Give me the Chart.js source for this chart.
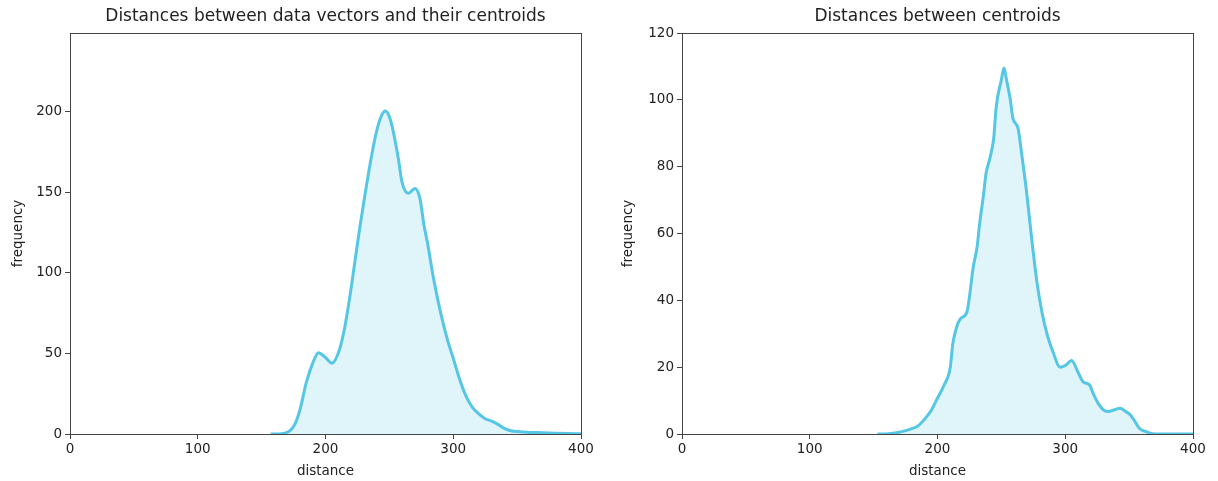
<!DOCTYPE html>
<html>
<head>
<meta charset="utf-8">
<script src="https://cdn.jsdelivr.net/npm/chart.js@4.4.1/dist/chart.umd.min.js"></script>
<style>
  html, body { margin: 0; padding: 0; background: #fff; }
  #wrap { position: relative; width: 1218px; height: 481px; }
  canvas { position: absolute; top: 0; }
</style>
</head>
<body>
<div id="wrap">
  <canvas id="left-chart" width="610" height="481" style="left:0"></canvas>
  <canvas id="right-chart" width="608" height="481" style="left:610px"></canvas>
</div>
<script>
// Distante intre vectori si centroizi (stanga)
var leftDist = [157, 163, 168, 172, 176, 180, 185, 190, 194.5, 200, 205, 211, 215, 219, 223, 227, 231, 235, 240, 244, 247, 250, 253, 257, 260, 265, 270, 274, 277, 280, 284, 288, 292, 296, 300, 305, 310, 315, 320, 325, 330, 335, 340, 345, 350, 360, 370, 380, 390, 400];
var leftFreq = [0, 0, 0.5, 2, 6, 15, 32, 44, 50.5, 47.5, 44, 52.5, 66, 85, 107, 129, 149, 168, 188, 198, 200.5, 197, 188, 171, 156, 149.5, 152.5, 146, 130, 118, 99, 83, 69, 57, 47, 34, 23.5, 16.5, 12.5, 9.5, 8, 6, 3.5, 2, 1.5, 1, 0.8, 0.5, 0.3, 0.2];

// Distante intre centroizi (dreapta)
var rightDist = [153, 160, 165, 170, 175, 180, 185, 190, 195, 199, 205, 210, 212, 215, 218, 223, 228, 231, 233, 236, 238, 241, 244, 246, 250, 252, 254, 257, 259, 263, 266, 270, 274, 278, 282, 286, 290, 296, 300, 305, 310, 314, 319, 322, 326, 330, 334, 338, 343, 347, 351, 355, 358, 364, 368, 375, 400];
var rightFreq = [0, 0, 0.2, 0.5, 1, 1.6, 2.5, 4.5, 7, 10, 14.5, 20, 27, 32, 34.5, 36.5, 50, 56, 63, 71.5, 78, 82.5, 88.5, 98, 106, 109.5, 106, 100, 94.5, 91.5, 83.5, 71.5, 57.5, 45, 36, 29.5, 25, 20, 20.5, 22, 18.5, 15.6, 14.7, 12, 9, 7.2, 6.7, 7.2, 7.7, 6.8, 5.7, 3.5, 1.7, 0.6, 0.1, 0, 0];

var xTicks = [0, 100, 200, 300, 400];
var leftYTicks = [0, 50, 100, 150, 200];
var rightYTicks = [0, 20, 40, 60, 80, 100, 120];

var LINE = '#55c6e4';
var FILL = 'rgba(85, 198, 228, 0.18)';
var TEXT = '#222222';
var AXIS = '#444444';
var FONT = "'DejaVu Sans', sans-serif";

// Chenar complet in jurul zonei de grafic (ca la matplotlib)
var framePlugin = {
    id: 'frame',
    afterDraw: function (chart) {
        var a = chart.chartArea;
        var ctx = chart.ctx;
        ctx.save();
        ctx.strokeStyle = AXIS;
        ctx.lineWidth = 1;
        ctx.strokeRect(Math.round(a.left) + 0.5, Math.round(a.top) + 0.5,
            Math.round(a.right - a.left), Math.round(a.bottom - a.top));
        ctx.restore();
    }
};

function toPoints(xs, ys) {
    return xs.map(function (x, i) { return { x: x, y: ys[i] }; });
}

function buildChart(canvasId, title, xs, ys, yMax, yTicks, yWidth, padRight) {
    var canvas = document.getElementById(canvasId);
    return new Chart(canvas, {
        type: 'line',
        data: {
            datasets: [{
                data: toPoints(xs, ys),
                borderColor: LINE,
                backgroundColor: FILL,
                borderWidth: 3,
                fill: 'origin',
                pointRadius: 0,
                cubicInterpolationMode: 'monotone'
            }]
        },
        options: {
            responsive: false,
            animation: false,
            layout: { padding: { left: 0, right: padRight, top: 0, bottom: 0 } },
            plugins: {
                legend: { display: false },
                tooltip: { enabled: false },
                title: {
                    display: true,
                    fullSize: false,
                    text: title,
                    color: TEXT,
                    font: { family: FONT, size: 17, weight: 'normal', lineHeight: 1.2 },
                    padding: { top: 6, bottom: 6.6 }
                }
            },
            scales: {
                x: {
                    type: 'linear',
                    min: 0,
                    max: 400,
                    afterBuildTicks: function (scale) {
                        scale.ticks = xTicks.map(function (v) { return { value: v }; });
                    },
                    afterFit: function (scale) { scale.height = 47; },
                    ticks: {
                        color: TEXT,
                        font: { family: FONT, size: 13.5 },
                        padding: 2,
                        maxRotation: 0
                    },
                    grid: { display: true, drawOnChartArea: false, drawTicks: true, tickLength: 5, color: AXIS },
                    border: { display: true, color: AXIS },
                    title: {
                        display: true,
                        text: 'distance',
                        color: TEXT,
                        font: { family: FONT, size: 13.5 },
                        padding: { top: 0, bottom: 1 }
                    }
                },
                y: {
                    min: 0,
                    max: yMax,
                    afterBuildTicks: function (scale) {
                        scale.ticks = yTicks.map(function (v) { return { value: v }; });
                    },
                    afterFit: function (scale) { scale.width = yWidth; },
                    ticks: {
                        color: TEXT,
                        font: { family: FONT, size: 13.5 },
                        padding: 3
                    },
                    grid: { display: true, drawOnChartArea: false, drawTicks: true, tickLength: 5, color: AXIS },
                    border: { display: true, color: AXIS },
                    title: {
                        display: true,
                        text: 'frequency',
                        color: TEXT,
                        font: { family: FONT, size: 13.5 },
                        padding: { top: 10, bottom: 0 }
                    }
                }
            }
        },
        plugins: [framePlugin]
    });
}

buildChart('left-chart', 'Distances between data vectors and their centroids',
    leftDist, leftFreq, 249, leftYTicks, 70, 29);
buildChart('right-chart', 'Distances between centroids',
    rightDist, rightFreq, 120, rightYTicks, 72, 25);
</script>
</body>
</html>
